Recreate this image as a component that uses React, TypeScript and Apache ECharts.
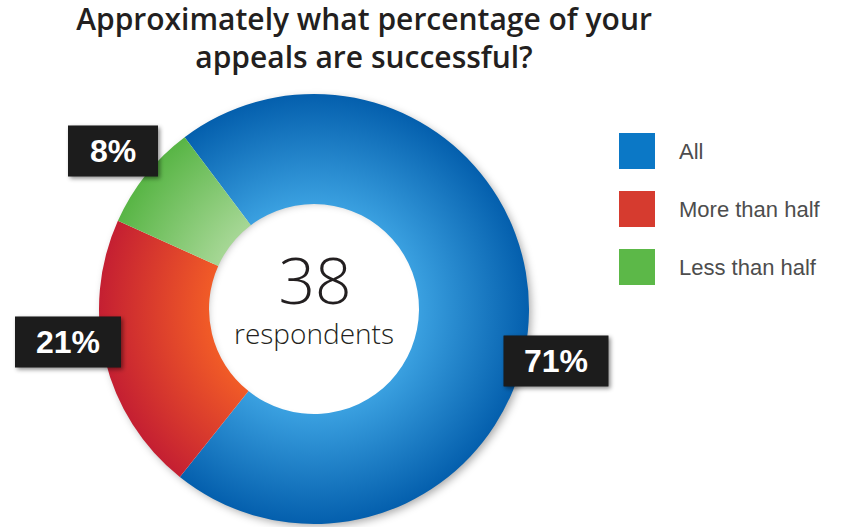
import React, { useEffect, useRef } from "react";
import * as echarts from "echarts";

const categories = ["All", "More than half", "Less than half"];
const values = [71, 21, 8];
const respondents = 38;
const titleLine1 = "Approximately what percentage of your";
const titleLine2 = "appeals are successful?";

const legendColors = ["#0b78c6", "#d63b2f", "#5cb848"];
const innerColors = ["#3aa0e0", "#f15b27", "#a6d795"];
const outerColors = ["#045fad", "#c41f32", "#58b545"];
const labelBoxes = [
  { x: 556, y: 361, w: 105 },
  { x: 68, y: 342, w: 106 },
  { x: 113, y: 151, w: 90 },
];

const CX = 314;
const CY = 309;
const R0 = 105;
const R1 = 215;

export default function App() {
  const ref = useRef<HTMLDivElement>(null);
  useEffect(() => {
    if (!ref.current) return;
    const chart = echarts.init(ref.current, null, { renderer: "svg" });
    const grad = (i: number) =>
      new echarts.graphic.RadialGradient(
        CX,
        CY,
        R1,
        [
          { offset: 0, color: innerColors[i] },
          { offset: R0 / R1, color: innerColors[i] },
          { offset: 1, color: outerColors[i] },
        ],
        true
      );
    const titleStyle = {
      fontFamily: "Open Sans",
      fontWeight: 600,
      fontSize: 30,
      lineHeight: 30,
      color: "#231f20",
    };
    chart.setOption({
      animation: false,
      backgroundColor: "#ffffff",
      title: {
        text: titleLine1,
        subtext: titleLine2,
        left: 364,
        top: 3,
        padding: 0,
        itemGap: 8,
        textAlign: "center",
        textStyle: titleStyle,
        subtextStyle: titleStyle,
      },
      legend: {
        orient: "vertical",
        left: 619,
        top: 133,
        padding: 0,
        itemWidth: 36,
        itemHeight: 36,
        itemGap: 22,
        icon: "rect",
        selectedMode: false,
        data: categories.map((c, i) => ({
          name: c,
          itemStyle: { color: legendColors[i] },
        })),
        textStyle: {
          fontFamily: "Liberation Sans",
          fontSize: 22,
          color: "#4d4d4d",
          padding: [0, 0, 0, 19],
        },
      },
      graphic: [
        {
          type: "ring",
          z: 0,
          shape: { cx: CX, cy: CY, r: R1 - 1, r0: R0 + 5 },
          style: {
            fill: "#ffffff",
            shadowBlur: 8,
            shadowOffsetX: 3,
            shadowOffsetY: 3,
            shadowColor: "rgba(0,0,0,0.35)",
          },
        },
        {
          type: "text",
          z: 10,
          x: CX + 1,
          y: 279,
          style: {
            text: String(respondents),
            fontFamily: "Open Sans",
            fontWeight: 300,
            fontSize: 64,
            lineHeight: 50,
            fill: "#231f20",
            align: "center",
            verticalAlign: "middle",
          },
        },
        {
          type: "text",
          z: 10,
          x: CX,
          y: 333,
          style: {
            text: "respondents",
            fontFamily: "Open Sans",
            fontWeight: 300,
            fontSize: 28,
            lineHeight: 28,
            fill: "#231f20",
            align: "center",
            verticalAlign: "middle",
          },
        },
      ],
      series: [
        {
          type: "pie",
          z: 2,
          center: [CX, CY],
          radius: [R0, R1],
          startAngle: 127,
          clockwise: true,
          avoidLabelOverlap: false,
          emphasis: { disabled: true },
          labelLine: { show: false },
          label: {
            show: true,
            position: "outside",
            formatter: "{c}%",
            color: "#ffffff",
            fontFamily: "Liberation Sans",
            fontWeight: "bold",
            fontSize: 32,
            backgroundColor: "#1d1d1d",
            height: 51,
            lineHeight: 51,
            align: "center",
            verticalAlign: "middle",
            padding: 0,
            shadowBlur: 4,
            shadowColor: "rgba(0,0,0,0.45)",
            shadowOffsetX: 2,
            shadowOffsetY: 2,
          },
          labelLayout: (params: any) => {
            const b = labelBoxes[params.dataIndex];
            return { x: b.x, y: b.y, align: "center", verticalAlign: "middle" };
          },
          data: categories.map((c, i) => ({
            name: c,
            value: values[i],
            itemStyle: { color: grad(i) },
            label: { width: labelBoxes[i].w },
          })),
        },
      ],
    });
    return () => chart.dispose();
  }, []);
  return (
    <div
      ref={ref}
      style={{ position: "fixed", left: 0, top: 0, width: 846, height: 527 }}
    />
  );
}
